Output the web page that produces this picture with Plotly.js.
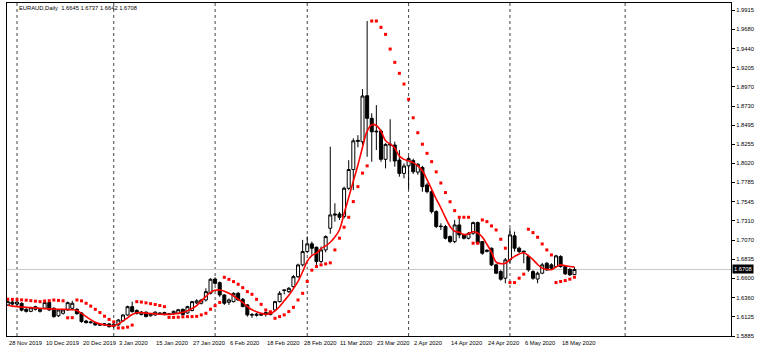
<!DOCTYPE html>
<html><head><meta charset="utf-8">
<script src="https://cdn.plot.ly/plotly-3.0.1.min.js"></script>
<style>html,body{margin:0;padding:0;background:#fff}#chart{width:760px;height:353px}</style>
</head><body><div id="chart"></div>
<script>
const symbolTitle = 'EURAUD,Daily';
const dates = ['2019-11-28','2019-11-29','2019-12-02','2019-12-03','2019-12-04','2019-12-05','2019-12-06','2019-12-09','2019-12-10','2019-12-11','2019-12-12','2019-12-13','2019-12-16','2019-12-17','2019-12-18','2019-12-19','2019-12-20','2019-12-23','2019-12-24','2019-12-26','2019-12-27','2019-12-30','2019-12-31','2020-01-02','2020-01-03','2020-01-06','2020-01-07','2020-01-08','2020-01-09','2020-01-10','2020-01-13','2020-01-14','2020-01-15','2020-01-16','2020-01-17','2020-01-20','2020-01-21','2020-01-22','2020-01-23','2020-01-24','2020-01-27','2020-01-28','2020-01-29','2020-01-30','2020-01-31','2020-02-03','2020-02-04','2020-02-05','2020-02-06','2020-02-07','2020-02-10','2020-02-11','2020-02-12','2020-02-13','2020-02-14','2020-02-17','2020-02-18','2020-02-19','2020-02-20','2020-02-21','2020-02-24','2020-02-25','2020-02-26','2020-02-27','2020-02-28','2020-03-02','2020-03-03','2020-03-04','2020-03-05','2020-03-06','2020-03-09','2020-03-10','2020-03-11','2020-03-12','2020-03-13','2020-03-16','2020-03-17','2020-03-18','2020-03-19','2020-03-20','2020-03-23','2020-03-24','2020-03-25','2020-03-26','2020-03-27','2020-03-30','2020-03-31','2020-04-01','2020-04-02','2020-04-03','2020-04-06','2020-04-07','2020-04-08','2020-04-09','2020-04-10','2020-04-13','2020-04-14','2020-04-15','2020-04-16','2020-04-17','2020-04-20','2020-04-21','2020-04-22','2020-04-23','2020-04-24','2020-04-27','2020-04-28','2020-04-29','2020-04-30','2020-05-01','2020-05-04','2020-05-05','2020-05-06','2020-05-07','2020-05-08','2020-05-11','2020-05-12','2020-05-13','2020-05-14','2020-05-15','2020-05-18','2020-05-19','2020-05-20','2020-05-21'];
const openP = [1.6269,1.6305,1.6280,1.6290,1.6215,1.6190,1.6215,1.6190,1.6228,1.6298,1.6228,1.6135,1.6166,1.6207,1.6228,1.6215,1.6170,1.6070,1.6060,1.6050,1.6030,1.6020,1.6035,1.6005,1.6022,1.6075,1.6145,1.6248,1.6200,1.6150,1.6180,1.6135,1.6145,1.6170,1.6175,1.6150,1.6160,1.6165,1.6215,1.6170,1.6200,1.6295,1.6290,1.6331,1.6413,1.6590,1.6545,1.6393,1.6302,1.6310,1.6413,1.6340,1.6270,1.6150,1.6140,1.6155,1.6175,1.6150,1.6207,1.6310,1.6455,1.6434,1.6496,1.6619,1.6765,1.6930,1.7025,1.6983,1.6806,1.6950,1.7218,1.7395,1.7395,1.7363,1.7712,1.7945,1.8305,1.8289,1.8858,1.8578,1.8420,1.8421,1.8071,1.8260,1.8248,1.8062,1.7897,1.7990,1.8055,1.7912,1.7970,1.7754,1.7671,1.7424,1.7245,1.7239,1.7115,1.7053,1.7259,1.7136,1.7094,1.7156,1.7288,1.7053,1.6945,1.6971,1.6765,1.6682,1.6600,1.6827,1.7124,1.6971,1.6935,1.6868,1.6682,1.6590,1.6662,1.6785,1.6765,1.6744,1.6868,1.6744,1.6710,1.6645];
const highP = [1.6331,1.6325,1.6320,1.6300,1.6230,1.6245,1.6260,1.6230,1.6310,1.6315,1.6240,1.6220,1.6215,1.6310,1.6320,1.6230,1.6180,1.6085,1.6070,1.6060,1.6040,1.6045,1.6045,1.6040,1.6095,1.6155,1.6260,1.6310,1.6215,1.6195,1.6190,1.6165,1.6190,1.6180,1.6185,1.6170,1.6200,1.6220,1.6225,1.6260,1.6320,1.6340,1.6345,1.6475,1.6600,1.6610,1.6560,1.6400,1.6350,1.6425,1.6430,1.6355,1.6280,1.6170,1.6170,1.6165,1.6190,1.6195,1.6320,1.6440,1.6460,1.6490,1.6640,1.6780,1.7074,1.7115,1.7053,1.6992,1.6992,1.7130,1.8227,1.7527,1.7420,1.7733,1.8060,1.8330,1.8370,1.8940,1.9782,1.8640,1.8742,1.8440,1.8269,1.8566,1.8290,1.8186,1.8021,1.8110,1.8080,1.8025,1.7990,1.7780,1.7690,1.7440,1.7280,1.7260,1.7130,1.7321,1.7340,1.7150,1.7170,1.7300,1.7300,1.7060,1.6960,1.6980,1.6780,1.6700,1.6850,1.7218,1.7176,1.6990,1.6940,1.6890,1.6700,1.6682,1.6790,1.6800,1.6785,1.6890,1.6885,1.6760,1.6725,1.6737];
const lowP = [1.6256,1.6265,1.6250,1.6190,1.6175,1.6180,1.6200,1.6175,1.6215,1.6195,1.6110,1.6120,1.6150,1.6195,1.6215,1.6150,1.6050,1.6040,1.6040,1.6015,1.6010,1.6010,1.5990,1.5985,1.6010,1.6060,1.6135,1.6175,1.6150,1.6140,1.6115,1.6125,1.6135,1.6150,1.6140,1.6145,1.6150,1.6155,1.6140,1.6160,1.6190,1.6280,1.6275,1.6310,1.6400,1.6520,1.6370,1.6270,1.6270,1.6300,1.6320,1.6240,1.6125,1.6110,1.6125,1.6135,1.6125,1.6140,1.6190,1.6300,1.6400,1.6420,1.6480,1.6600,1.6745,1.6910,1.6890,1.6765,1.6786,1.6920,1.7150,1.7300,1.7320,1.7340,1.7690,1.7691,1.8220,1.8250,1.8103,1.8041,1.8186,1.8041,1.7959,1.8041,1.7980,1.7856,1.7836,1.7700,1.7890,1.7880,1.7670,1.7650,1.7400,1.7220,1.7197,1.7080,1.7033,1.7033,1.7094,1.7080,1.7080,1.7136,1.7020,1.6890,1.6920,1.6750,1.6650,1.6570,1.6538,1.6785,1.6930,1.6910,1.6785,1.6680,1.6580,1.6538,1.6650,1.6690,1.6710,1.6730,1.6730,1.6640,1.6630,1.6642];
const closeP = [1.6310,1.6280,1.6305,1.6205,1.6190,1.6235,1.6248,1.6215,1.6298,1.6207,1.6125,1.6207,1.6207,1.6298,1.6290,1.6160,1.6063,1.6050,1.6050,1.6022,1.6020,1.6035,1.6000,1.6030,1.6083,1.6145,1.6248,1.6186,1.6166,1.6180,1.6125,1.6155,1.6180,1.6160,1.6150,1.6160,1.6190,1.6210,1.6150,1.6248,1.6310,1.6320,1.6330,1.6434,1.6587,1.6537,1.6393,1.6290,1.6331,1.6413,1.6331,1.6249,1.6146,1.6145,1.6155,1.6145,1.6150,1.6180,1.6310,1.6413,1.6450,1.6475,1.6619,1.6764,1.6930,1.7025,1.6971,1.6806,1.6950,1.7115,1.7383,1.7383,1.7354,1.7713,1.7945,1.8300,1.8295,1.8854,1.8578,1.8412,1.8412,1.8071,1.8256,1.8250,1.8050,1.7897,1.7988,1.8080,1.7917,1.8010,1.7733,1.7671,1.7424,1.7239,1.7239,1.7094,1.7053,1.7259,1.7136,1.7094,1.7156,1.7288,1.7033,1.6909,1.6935,1.6765,1.6662,1.6588,1.6827,1.7136,1.6971,1.6930,1.6925,1.6703,1.6600,1.6662,1.6765,1.6703,1.6724,1.6876,1.6744,1.6654,1.6641,1.6708];
const maValues = [1.6265,1.6255,1.6248,1.6244,1.6240,1.6236,1.6232,1.6228,1.6224,1.6220,1.6218,1.6216,1.6215,1.6214,1.6210,1.6199,1.6165,1.6125,1.6088,1.6055,1.6035,1.6024,1.6015,1.6010,1.6035,1.6070,1.6110,1.6150,1.6172,1.6175,1.6168,1.6164,1.6160,1.6155,1.6153,1.6153,1.6157,1.6165,1.6178,1.6198,1.6225,1.6262,1.6320,1.6375,1.6425,1.6450,1.6455,1.6440,1.6413,1.6380,1.6340,1.6300,1.6250,1.6210,1.6185,1.6165,1.6155,1.6160,1.6195,1.6250,1.6320,1.6390,1.6470,1.6560,1.6680,1.6810,1.6880,1.6910,1.6965,1.7000,1.7045,1.7110,1.7200,1.7400,1.7600,1.7800,1.8000,1.8220,1.8420,1.8500,1.8490,1.8420,1.8300,1.8260,1.8210,1.8110,1.8070,1.8050,1.8030,1.7990,1.7930,1.7820,1.7700,1.7580,1.7470,1.7350,1.7240,1.7180,1.7170,1.7140,1.7150,1.7175,1.7160,1.7110,1.7020,1.6920,1.6800,1.6780,1.6785,1.6830,1.6870,1.6900,1.6915,1.6880,1.6830,1.6770,1.6725,1.6710,1.6705,1.6740,1.6765,1.6755,1.6745,1.6740];
const sarValues = [1.6340,1.6338,1.6335,1.6332,1.6328,1.6322,1.6316,1.6310,1.6318,1.6322,1.6330,1.6325,1.6320,1.6110,1.6112,1.6331,1.6320,1.6290,1.6255,1.6215,1.6175,1.6130,1.6090,1.6060,1.5985,1.5986,1.5995,1.6020,1.6310,1.6305,1.6295,1.6285,1.6275,1.6262,1.6248,1.6115,1.6115,1.6118,1.6122,1.6125,1.6125,1.6128,1.6146,1.6166,1.6216,1.6260,1.6300,1.6611,1.6586,1.6558,1.6525,1.6483,1.6434,1.6401,1.6339,1.6277,1.6207,1.6185,1.6104,1.6125,1.6146,1.6187,1.6240,1.6331,1.6413,1.6560,1.6700,1.6745,1.6765,1.6777,1.6790,1.6950,1.7095,1.7231,1.7354,1.7548,1.7733,1.7900,1.7990,1.9782,1.9782,1.9704,1.9617,1.9435,1.9271,1.9135,1.9002,1.8813,1.8585,1.8400,1.8258,1.8145,1.8042,1.7916,1.7778,1.7660,1.7546,1.7436,1.7354,1.7354,1.7354,1.7033,1.7033,1.7321,1.7300,1.7247,1.7197,1.7082,1.6971,1.6546,1.6546,1.6600,1.6650,1.7206,1.7164,1.7107,1.7024,1.6950,1.6888,1.6546,1.6559,1.6571,1.6588,1.6612];
const priceTicks = [1.9915,1.9680,1.9440,1.9205,1.8970,1.8730,1.8495,1.8255,1.8020,1.7785,1.7545,1.7310,1.7070,1.6835,1.6600,1.6360,1.6125,1.5885];
const tickDates = ['2019-11-28','2019-12-10','2019-12-20','2020-01-03','2020-01-15','2020-01-27','2020-02-06','2020-02-18','2020-02-28','2020-03-11','2020-03-23','2020-04-02','2020-04-14','2020-04-24','2020-05-06','2020-05-18'];
const tickLabels = ['28 Nov 2019','10 Dec 2019','20 Dec 2019','3 Jan 2020','15 Jan 2020','27 Jan 2020','6 Feb 2020','18 Feb 2020','28 Feb 2020','11 Mar 2020','23 Mar 2020','2 Apr 2020','14 Apr 2020','24 Apr 2020','6 May 2020','18 May 2020'];
const separatorDates = ['2019-12-02','2020-01-02','2020-02-03','2020-03-02','2020-04-01','2020-05-01'];
const futureSeparatorBar = 134; // 1 Jun 2020 separator in the empty right margin

const idx = dates.map((d, i) => i);
const last = dates.length - 1;
const FONT = 'Liberation Sans, Arial, sans-serif';
const FS = 5.8;

const traces = [
  {type:'candlestick', x: idx, open: openP, high: highP, low: lowP, close: closeP,
   increasing:{line:{color:'#000', width:1}, fillcolor:'#ffffff'},
   decreasing:{line:{color:'#000', width:1}, fillcolor:'#000000'},
   whiskerwidth:0, hoverinfo:'skip', showlegend:false},
  {type:'scatter', mode:'lines', x: idx, y: maValues, line:{color:'#ff0000', width:1.6, shape:'spline'}, hoverinfo:'skip', showlegend:false},
  {type:'scatter', mode:'markers', x: idx, y: sarValues, marker:{symbol:'square', size:3, color:'#ff0000', line:{width:0}}, hoverinfo:'skip', showlegend:false}
];

const shapes = [];
separatorDates.map(d => dates.indexOf(d)).concat([futureSeparatorBar]).forEach(i => {
  shapes.push({type:'line', xref:'x', yref:'paper', x0:i, x1:i, y0:0, y1:1, layer:'below',
               line:{color:'#444', width:1, dash:'dot'}});
});
shapes.push({type:'line', xref:'paper', yref:'y', x0:0, x1:1, y0:closeP[last], y1:closeP[last], layer:'below',
             line:{color:'#c8c8c8', width:1}});

const annotations = tickDates.map((d, k) => ({
  x: dates.indexOf(d), xref:'x', y:0, yref:'paper', yanchor:'top', xanchor:'left',
  xshift:-1, yshift:-2, text: tickLabels[k], showarrow:false,
  font:{family:FONT, size:FS, color:'#000'}
}));
annotations.push({x:1, xref:'paper', xanchor:'left', xshift:1, y:closeP[last], yref:'y', yanchor:'middle',
  text: closeP[last].toFixed(4), showarrow:false, bgcolor:'#000', borderpad:1,
  font:{family:FONT, size:FS, color:'#fff'}});
annotations.push({x:0.0138, xref:'paper', y:0.985, yref:'paper', xanchor:'left', yanchor:'middle', showarrow:false,
  text: symbolTitle + '  ' + [openP[last], highP[last], lowP[last], closeP[last]].map(v => v.toFixed(4)).join(' '),
  font:{family:FONT, size:FS, color:'#000'}});

const layout = {
  width:760, height:353, margin:{l:7, r:29, t:3, b:17},
  paper_bgcolor:'#fff', plot_bgcolor:'#fff', showlegend:false,
  boxgap:0.35, boxgroupgap:0,
  xaxis:{range:[-0.17, 156.98], showgrid:false, zeroline:false, showticklabels:false, ticks:'',
         showline:true, linecolor:'#000', linewidth:1, mirror:true, rangeslider:{visible:false}, fixedrange:true},
  yaxis:{side:'right', range:[1.5885, 2.0005], tickvals: priceTicks, ticktext: priceTicks.map(v => v.toFixed(4)),
         ticks:'outside', ticklen:3, tickcolor:'#000', showgrid:false, zeroline:false,
         showline:true, linecolor:'#000', linewidth:1, mirror:true, fixedrange:true,
         tickfont:{family:FONT, size:FS, color:'#000'}},
  shapes: shapes, annotations: annotations
};
Plotly.newPlot('chart', traces, layout, {staticPlot:true, displayModeBar:false});
</script></body></html>
